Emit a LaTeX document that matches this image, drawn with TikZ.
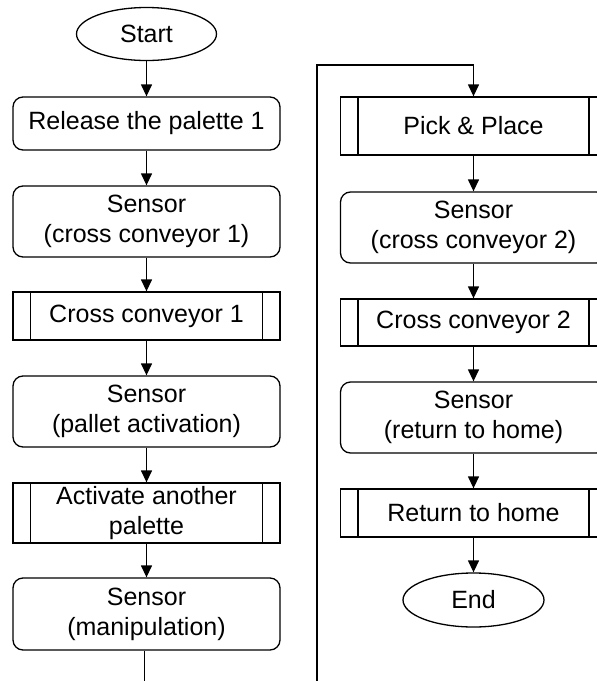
\documentclass[tikz,border=0pt]{standalone}
\usepackage{fontspec}
\setmainfont{Liberation Sans}
\usetikzlibrary{shapes.geometric,arrows.meta,calc}
\begin{document}
\begin{tikzpicture}[x=1pt,y=-1pt,
  every node/.style={font=\fontsize{25}{30}\selectfont, align=center, inner sep=0pt, line width=1.3pt},
  term/.style={draw, ellipse, minimum width=140, minimum height=53},
  stepbox/.style={draw, rounded corners=10pt, minimum width=267},
  proc/.style={draw, minimum width=267,
    path picture={
      \draw[line width=1.3pt] ([xshift=17.5pt]path picture bounding box.north west) -- ([xshift=17.5pt]path picture bounding box.south west);
      \draw[line width=1.3pt] ([xshift=-17.5pt]path picture bounding box.north east) -- ([xshift=-17.5pt]path picture bounding box.south east);
    }},
  arr/.style={line width=1.3pt, -{Triangle[length=12pt,width=11pt]}},
  ln/.style={line width=1.3pt}
]
\useasboundingbox (0,0) rectangle (597,681);
% left column
\node[term] (start) at (146.5,34) {Start};
\node[stepbox, minimum height=53] (rel) at (146.5,123.5) {Release the palette 1};
\node[stepbox, minimum height=71] (s1) at (146.5,221.5) {Sensor\\(cross conveyor 1)};
\node[proc, minimum height=48] (cc1) at (146.5,316) {Cross conveyor 1};
\node[stepbox, minimum height=71] (sp) at (146.5,411.5) {Sensor\\(pallet activation)};
\node[proc, minimum height=60] (act) at (146.5,513) {Activate another\\palette};
\node[stepbox, minimum height=72] (sm) at (146.5,614) {Sensor\\(manipulation)};
% right column
\node[proc, minimum height=58, minimum width=266] (pick) at (473.5,126) {Pick \& Place};
\node[stepbox, minimum height=71, minimum width=266] (s2) at (473.5,227.5) {Sensor\\(cross conveyor 2)};
\node[proc, minimum height=47, minimum width=266] (cc2) at (473.5,322.5) {Cross conveyor 2};
\node[stepbox, minimum height=71, minimum width=266] (sr) at (473.5,417.5) {Sensor\\(return to home)};
\node[proc, minimum height=48, minimum width=266] (rh) at (473.5,513) {Return to home};
\node[term, minimum width=141, minimum height=54] (end) at (473.5,600) {End};
% connectors
\draw[arr] (start) -- (rel);
\draw[arr] (rel) -- (s1);
\draw[arr] (s1) -- (cc1);
\draw[arr] (cc1) -- (sp);
\draw[arr] (sp) -- (act);
\draw[arr] (act) -- (sm);
\coordinate (c1) at (144.5,681);
\coordinate (c2) at (317,681);
\coordinate (c3) at (317,65);
\draw[ln] (sm.south -| c1) -- (c1);
\draw[arr] (c2) -- (c3) -| (pick.north);
\draw[arr] (pick) -- (s2);
\draw[arr] (s2) -- (cc2);
\draw[arr] (cc2) -- (sr);
\draw[arr] (sr) -- (rh);
\draw[arr] (rh) -- (end);
\end{tikzpicture}
\end{document}
